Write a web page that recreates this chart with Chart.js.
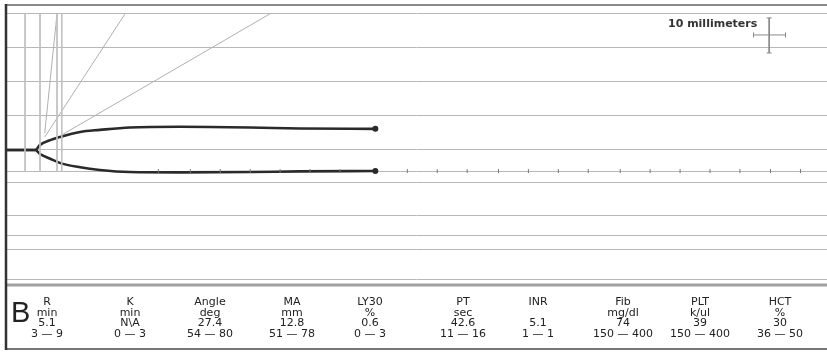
<!DOCTYPE html>
<html>
<head>
<meta charset="utf-8">
<script src="https://cdn.jsdelivr.net/npm/chart.js@4.4.1/dist/chart.umd.min.js"></script>
<style>
  html, body { margin: 0; padding: 0; background: #fff; }
  #wrap { position: relative; width: 827px; height: 354px; }
</style>
</head>
<body>
<div id="wrap"><canvas id="tegChart" width="827" height="354"></canvas></div>
<script>
// Trace (time in min, amplitude in mm)
const traceTime = [0, 4.3, 5.0, 6.5, 7.9, 10.9, 13.8, 18.2, 25.6, 35.9, 43.2, 54.3];
const upperAmp  = [0, 0, 1.5, 2.9, 3.8, 5.3, 5.9, 6.6, 6.8, 6.6, 6.3, 6.2];
const lowerAmp  = [0, 0, -1.2, -2.6, -3.8, -5.1, -5.9, -6.5, -6.6, -6.5, -6.3, -6.2];

// Reference markers
const markerTimes = [2.8, 5.0, 7.5, 8.2];
const markerTop = 40, markerBottom = -6.5;
const angleLines = [
    [[5.7, 5.0], [7.5, 40]],
    [[5.7, 3.8], [17.5, 40]],
    [[8.2, 4.4], [38.8, 40]]
];
const baselineTicks = [22.4, 27.1, 31.5, 35.9, 40.3, 44.7, 49.1, 59.0, 63.4, 67.8, 72.4, 76.8, 81.2, 85.6, 90.3, 94.7, 99.1, 103.5, 107.9, 112.4, 116.8];
const baselineLevel = -6.2;
const gridLevels = [40, 30, 20, 10, 0, -6.2, -9.7, -19.4, -25, -29.4, -38.2];

// Scale bar (10 mm)
const scaleBarH = [[109.9, 33.8], [114.6, 33.8]];
const scaleBarV = [[112.2, 38.8], [112.2, 28.5]];
const scaleLabel = '10 millimeters';

// Results table
const params  = ['R', 'K', 'Angle', 'MA', 'LY30', 'PT', 'INR', 'Fib', 'PLT', 'HCT'];
const units   = ['min', 'min', 'deg', 'mm', '%', 'sec', '', 'mg/dl', 'k/ul', '%'];
const results = ['5.1', 'N\\A', '27.4', '12.8', '0.6', '42.6', '5.1', '74', '39', '30'];
const ranges  = ['3 — 9', '0 — 3', '54 — 80', '51 — 78', '0 — 3', '11 — 16', '1 — 1', '150 — 400', '150 — 400', '36 — 50'];
const panelLabel = 'B';

const pts = (xs, ys) => xs.map((x, i) => ({ x, y: ys[i] }));
const seg = (pair) => pair.map(p => ({ x: p[0], y: p[1] }));
const lastIdx = traceTime.length - 1;

const datasets = [];
markerTimes.forEach(t => datasets.push({
    data: [{ x: t, y: markerTop }, { x: t, y: markerBottom }],
    borderColor: '#c0c0c0', borderWidth: 1, pointRadius: 0
}));
angleLines.forEach(l => datasets.push({
    data: seg(l), borderColor: '#b0b0b0', borderWidth: 1, pointRadius: 0
}));
datasets.push({
    data: baselineTicks.map(x => ({ x, y: baselineLevel })),
    showLine: false, pointStyle: 'line', rotation: 90, pointRadius: 2,
    borderColor: '#777', borderWidth: 1
});
[upperAmp, lowerAmp].forEach(a => datasets.push({
    data: pts(traceTime, a),
    borderColor: '#2a2a2a', backgroundColor: '#2a2a2a', borderWidth: 2.6,
    cubicInterpolationMode: 'monotone',
    pointRadius: ctx => ctx.dataIndex === lastIdx ? 1.7 : 0
}));
datasets.push({
    data: seg(scaleBarH), borderColor: '#888', borderWidth: 1,
    pointStyle: 'line', rotation: 90, pointRadius: 2.5
});
datasets.push({
    data: seg(scaleBarV), borderColor: '#888', borderWidth: 1,
    pointStyle: 'line', rotation: 0, pointRadius: 2.5
});

const framePlugin = {
    id: 'frame',
    afterDraw(chart) {
        const { ctx, chartArea: a, width, height } = chart;
        ctx.save();
        // borders
        ctx.strokeStyle = '#8a8a8a';
        ctx.lineWidth = 2;
        ctx.beginPath(); ctx.moveTo(a.left, a.top); ctx.lineTo(width, a.top); ctx.stroke();
        ctx.strokeStyle = '#a0a0a0';
        ctx.lineWidth = 3;
        ctx.beginPath(); ctx.moveTo(a.left, a.bottom + 2); ctx.lineTo(width, a.bottom + 2); ctx.stroke();
        ctx.strokeStyle = '#777';
        ctx.lineWidth = 2;
        ctx.beginPath(); ctx.moveTo(a.left, height - 5); ctx.lineTo(width, height - 5); ctx.stroke();
        ctx.strokeStyle = '#333';
        ctx.lineWidth = 2.5;
        ctx.beginPath(); ctx.moveTo(a.left, a.top - 1); ctx.lineTo(a.left, height - 4); ctx.stroke();

        // scale label
        ctx.fillStyle = '#333';
        ctx.font = 'bold 11px "DejaVu Sans", sans-serif';
        ctx.textAlign = 'left';
        ctx.textBaseline = 'alphabetic';
        ctx.fillText(scaleLabel, 668, 27);

        // panel letter
        ctx.font = '29px "Liberation Sans", Arial, sans-serif';
        ctx.fillStyle = '#222';
        ctx.fillText(panelLabel, 11, 322);

        // table
        const cols = [47, 130, 210, 292, 370, 463, 538, 623, 700, 780];
        const rows = [305, 315.5, 326, 337];
        ctx.font = '11px "DejaVu Sans", Verdana, sans-serif';
        ctx.textAlign = 'center';
        ctx.fillStyle = '#222';
        params.forEach((p, i) => {
            ctx.fillText(p, cols[i], rows[0]);
            ctx.fillText(units[i], cols[i], rows[1]);
            ctx.fillText(results[i], cols[i], rows[2]);
            ctx.fillText(ranges[i], cols[i], rows[3]);
        });
        ctx.restore();
    }
};

new Chart(document.getElementById('tegChart'), {
    type: 'line',
    data: { datasets },
    options: {
        responsive: false,
        animation: false,
        layout: { autoPadding: false, padding: { left: 6, top: 5, right: 0, bottom: 71 } },
        plugins: { legend: { display: false }, tooltip: { enabled: false } },
        elements: { line: { tension: 0 } },
        scales: {
            x: { type: 'linear', min: 0, max: 120.7, display: false },
            y: {
                type: 'linear', min: -39.1, max: 42.6,
                afterBuildTicks: axis => { axis.ticks = gridLevels.map(v => ({ value: v })); },
                ticks: { display: false },
                grid: { color: '#b8b8b8', lineWidth: 1, drawTicks: false },
                border: { display: false }
            }
        }
    },
    plugins: [framePlugin]
});
</script>
</body>
</html>
